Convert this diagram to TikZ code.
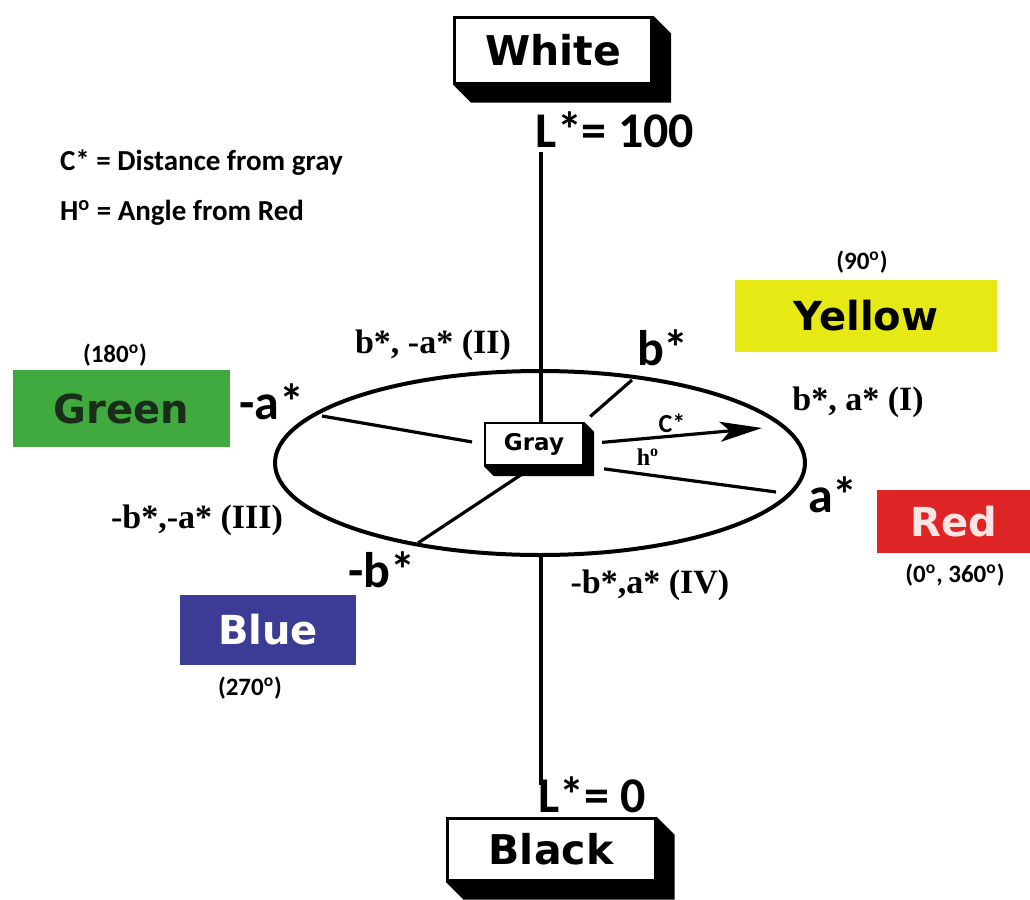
\documentclass[tikz,border=0pt]{standalone}
\usepackage{fontspec}
\setmainfont{Liberation Serif}
\newfontfamily\platefont{DejaVu Sans}
\newfontfamily\calfont{Carlito}
\usetikzlibrary{arrows.meta}

\definecolor{yellowbox}{RGB}{230,233,20}
\definecolor{greenbox}{RGB}{64,170,64}
\definecolor{redbox}{RGB}{222,36,36}
\definecolor{bluebox}{RGB}{60,60,150}
\definecolor{greentext}{RGB}{25,45,25}
\definecolor{redtext}{RGB}{250,228,228}

\begin{document}
\begin{tikzpicture}[x=0.5pt, y=-0.5pt]
        % Style definitions
        \tikzset{
            plate/.style={draw=black, line width=1.5pt, fill=white, inner sep=0pt,
                font=\platefont\bfseries\fontsize{20.5}{24}\selectfont},
            colorbox/.style={inner sep=0pt, font=\platefont\bfseries\fontsize{20}{24}\selectfont},
            axis/.style={black, line width=2.1pt},
            spoke/.style={black, line width=1.6pt},
            bigstar/.style={font=\calfont\bfseries\fontsize{25}{28}\selectfont},
            degree/.style={font=\calfont\bfseries\fontsize{12.5}{14}\selectfont},
            quadrant/.style={font=\bfseries\fontsize{17}{20}\selectfont},
            legend/.style={anchor=west, font=\calfont\bfseries\fontsize{14.5}{17}\selectfont}
        }
        \useasboundingbox (0,0) rectangle (1030,900);

        % ==========================================
        % LIGHTNESS AXIS
        % ==========================================
        \node[plate, minimum width=98.5pt, minimum height=33pt] (white) at (553,50) {White};
        \node[plate, minimum width=104pt, minimum height=31pt] (black) at (551,849) {Black};
        \node[bigstar] (ltop) at (615,130) {L*= 100};
        \node[bigstar] (lbot) at (592,795) {L*= 0};
        \coordinate (axtop) at (541,152);
        \coordinate (axbot) at (541,785);
        \coordinate (rimS) at (541,556);

        % Disc of a*, b*
        \draw[black, line width=2pt] (540,463) ellipse [x radius=265, y radius=92];
        \node[plate, line width=1.2pt, minimum width=49pt, minimum height=21pt,
            font=\platefont\bfseries\fontsize{11.5}{13}\selectfont] (gray) at (534,444) {Gray};

        % block shadows
        \foreach \n/\d in {white/18, black/18, gray/10}
            \fill[black] (\n.south west) -- ([shift={(\d,\d)}]\n.south west)
                -- ([shift={(\d,\d)}]\n.south east) -- ([shift={(\d,\d)}]\n.north east)
                -- (\n.north east) -- (\n.south east) -- cycle;

        \draw[axis] (axtop) -- (axtop |- gray.north);
        \draw[axis] (rimS) -- (axbot);

        % Spokes to the rim
        \coordinate (rimII) at (322,416);
        \coordinate (rimI) at (632,380);
        \coordinate (rimIII) at (418,543);
        \coordinate (rimIV) at (776,492);
        \coordinate (cend) at (762,428);
        \draw[spoke, shorten <=6pt] (gray.west) -- (rimII);
        \draw[spoke, shorten <=4pt] (gray.north east) -- (rimI);
        \draw[spoke, shorten <=6pt] (gray.south) -- (rimIII);
        \draw[spoke, shorten <=10pt] (gray.south east) -- (rimIV);
        \draw[spoke, -{Stealth[length=21pt, width=10pt, inset=5pt]}, shorten <=9pt]
            (gray.east) -- (cend);
        \node[font=\calfont\bfseries\fontsize{13}{15}\selectfont] (cstar) at (672,423) {C*};
        \node[font=\bfseries\fontsize{12}{14}\selectfont] (hdeg) at (648,457) {h\textsuperscript{o}};

        % Axis ends
        \node[bigstar] (bpos) at (663,348) {b*};
        \node[bigstar] (aneg) at (272,402) {-a*};
        \node[bigstar] (apos) at (833,495) {a*};
        \node[bigstar] (bneg) at (382,570) {-b*};

        % Quadrants
        \node[quadrant] (qI) at (858,402) {b*, a* (I)};
        \node[quadrant] (qII) at (433,345) {b*, -a* (II)};
        \node[quadrant] (qIII) at (197,520) {-b*,-a* (III)};
        \node[quadrant] (qIV) at (650,585) {-b*,a* (IV)};

        % ==========================================
        % HUE BLOCKS
        % ==========================================
        \node[colorbox, fill=yellowbox, text=black, minimum width=131pt, minimum height=36pt] (yellow) at (866,316) {Yellow};
        \node[colorbox, fill=greenbox, text=greentext, minimum width=108.5pt, minimum height=38.5pt] (green) at (121.5,408.5) {Green};
        \node[colorbox, fill=redbox, text=redtext, minimum width=76.5pt, minimum height=31.5pt] (red) at (953.5,521.5) {Red};
        \node[colorbox, fill=bluebox, text=white, minimum width=88pt, minimum height=35pt] (blue) at (268,630) {Blue};

        \node[degree] (dyellow) at (862,262) {(90\textsuperscript{o})};
        \node[degree] (dgreen) at (115,355) {(180\textsuperscript{o})};
        \node[degree] (dred) at (955,575) {(0\textsuperscript{o}, 360\textsuperscript{o})};
        \node[degree] (dblue) at (250,688) {(270\textsuperscript{o})};

        % Legend
        \node[legend] (legC) at (53,163) {C* = Distance from gray};
        \node[legend] (legH) at (53,213) {H\textsuperscript{o} = Angle from Red};
    \end{tikzpicture}
\end{document}
